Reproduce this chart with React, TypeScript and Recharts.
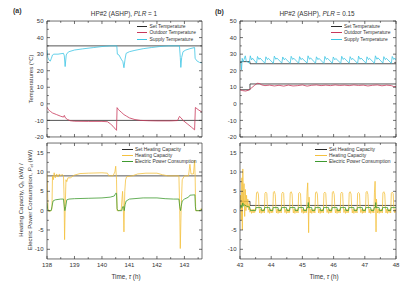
import React from 'react';
import { LineChart, Line, XAxis, YAxis, Legend } from 'recharts';

const FONT = '"Liberation Sans", Arial, sans-serif';
const INK = '#333';

const SET_COLOR = '#2a2a2a';
const OUTDOOR_COLOR = '#c8385a';
const SUPPLY_COLOR = '#3ec5e4';
const HEAT_COLOR = '#f4c13f';
const POWER_COLOR = '#3f9a30';

// axis ticks: labelled ones and the minor ones halfway between them
const aTimeLabels = [138, 139, 140, 141, 142, 143];
const aTimeMinor = [138.5, 139.5, 140.5, 141.5, 142.5, 143.5];
const bTimeLabels = [43, 44, 45, 46, 47, 48];
const bTimeMinor = [43.5, 44.5, 45.5, 46.5, 47.5];
const tempTicks = [-20, -15, -10, -5, 0, 5, 10, 15, 20, 25, 30, 35, 40, 45, 50];
const tempLabels = [-20, -10, 0, 10, 20, 30, 40, 50];
const powerTicks = [-10, -7.5, -5, -2.5, 0, 2.5, 5, 7.5, 10, 12.5, 15];
const powerLabels = [-10, -5, 0, 5, 10, 15];

// ---- (a) PLR = 1, hours 138-143.6 ----
const aSetSupply = [[138, 35], [143.64, 35]];
const aSetOutdoor = [[138, -10], [143.64, -10]];
const aOutdoor = [
  [138.0, -2], [138.05, -3.5], [138.12, -4.5], [138.2, -5.5], [138.35, -6.5], [138.5, -7.5],
  [138.6, -8], [138.63, -7], [138.67, -8.5], [138.75, -9.5], [138.85, -10.2], [139.0, -10.5],
  [139.5, -10.6], [140.0, -10.6], [140.2, -10.8], [140.3, -12], [140.4, -13.5], [140.5, -15.5],
  [140.53, -16], [140.55, -2.3], [140.6, -3.5], [140.7, -5], [140.8, -6.5], [140.9, -7.5],
  [141.0, -8.5], [141.2, -9.5], [141.4, -10], [141.7, -10.2], [142.0, -10.3], [142.5, -10.3],
  [142.75, -10.1], [142.82, -7.6], [142.88, -8.5], [142.95, -10], [143.1, -12], [143.25, -14],
  [143.37, -15.7], [143.4, -2.2], [143.5, -3.5], [143.64, -5],
];
const aSupply = [
  [138.0, 32.5], [138.03, 28], [138.07, 26.5], [138.12, 25.8], [138.16, 27.5], [138.2, 29.5],
  [138.25, 30], [138.4, 30], [138.6, 30.5], [138.63, 29], [138.66, 22.5], [138.7, 29.5],
  [138.73, 30.5], [138.8, 31.5], [139.0, 32.5], [139.3, 33.2], [139.7, 34], [140.0, 34.6],
  [140.3, 35], [140.54, 35], [140.56, 30], [140.62, 29.5], [140.7, 27], [140.76, 25.5],
  [140.8, 21.8], [140.84, 27], [140.88, 30.5], [141.0, 31.5], [141.2, 32.3], [141.5, 33.3],
  [141.8, 34], [142.1, 34.6], [142.4, 35], [142.82, 35], [142.85, 28], [142.87, 22],
  [142.9, 28], [142.95, 31.5], [143.05, 32.5], [143.2, 33.3], [143.37, 34], [143.39, 27.5],
  [143.45, 26], [143.55, 25], [143.64, 24.8],
];
const aSetHeat = [[138, 9], [143.64, 9]];
const aHeat = [
  [138.0, 9.8], [138.02, 5], [138.04, 0], [138.08, -0.2], [138.15, 0], [138.18, 0.5],
  [138.2, 9], [138.23, 8], [138.26, 9.8], [138.3, 8.5], [138.35, 9.5], [138.4, 8.7],
  [138.45, 9.5], [138.5, 9], [138.55, 9.4], [138.6, 9], [138.62, 4], [138.64, -7.5],
  [138.66, 0], [138.69, 8], [138.72, 7.5], [138.76, 8.5], [138.85, 8.5], [139.0, 9.2],
  [139.2, 9.6], [139.5, 9.7], [140.0, 9.8], [140.2, 9.7], [140.25, 9.0], [140.4, 9],
  [140.47, 10], [140.5, 11.5], [140.53, 8], [140.55, 0], [140.6, 0], [140.7, 0.2],
  [140.75, 5], [140.78, 0], [140.8, -5.5], [140.83, 5], [140.86, 8], [140.9, 8.8],
  [141.1, 9], [141.3, 9.5], [141.6, 9.7], [142.0, 9.7], [142.2, 9.3], [142.4, 9.0],
  [142.8, 9], [142.83, 0], [142.85, -9.8], [142.88, 0], [142.92, 8], [143.0, 9],
  [143.15, 9], [143.2, 12], [143.24, 9.5], [143.33, 9.5], [143.37, 13], [143.39, 9],
  [143.41, 0], [143.55, 0], [143.6, 0.5], [143.64, 0.3],
];
const aPower = [
  [138.0, 2], [138.02, 0.5], [138.05, 0], [138.15, 0], [138.18, 1], [138.22, 2.5],
  [138.3, 2.8], [138.5, 3], [138.6, 3], [138.63, 1], [138.65, 0], [138.68, 1],
  [138.72, 2.8], [138.8, 3], [139.0, 3.1], [139.5, 3.2], [140.0, 3.3], [140.3, 3.5],
  [140.45, 3.8], [140.5, 4.5], [140.53, 4.5], [140.55, 0.5], [140.58, 0], [140.72, 0],
  [140.75, 1], [140.79, 1], [140.81, 0], [140.84, 1.5], [140.88, 2.5], [141.0, 3],
  [141.5, 3.3], [142.0, 3.3], [142.3, 3.1], [142.6, 3], [142.8, 3], [142.83, 1],
  [142.86, 0], [142.88, 1], [142.92, 2.5], [143.0, 3], [143.15, 3.5], [143.2, 4],
  [143.38, 4.1], [143.4, 1], [143.42, 0], [143.6, 0], [143.64, 0.5],
];

// ---- (b) PLR = 0.15, hours 43-48 ----
const bSetSupply = [[43, 25.5], [43.32, 25.5], [43.32, 24.2], [48, 24.2]];
const bSetOutdoor = [[43, 8.5], [43.32, 8.5], [43.32, 12], [48, 12]];
const bOutdoor = [
  [43.0, 8.5], [43.08, 8.0], [43.18, 7.7], [43.28, 8.3], [43.38, 9.8], [43.47, 11.2],
  [43.55, 12.4], [43.62, 12.3], [43.7, 11.4], [43.8, 11.0], [43.95, 11.3], [44.1, 10.8],
  [44.25, 11.2], [44.4, 10.7], [44.55, 11.3], [44.7, 10.8], [44.85, 11.0], [45.0, 11.4],
  [45.15, 10.7], [45.3, 11.2], [45.45, 11.4], [45.6, 11.0], [45.75, 11.3], [45.9, 11.0],
  [46.05, 11.4], [46.2, 11.1], [46.35, 11.3], [46.5, 11.0], [46.65, 11.4], [46.8, 11.1],
  [46.95, 11.3], [47.1, 10.8], [47.25, 11.2], [47.4, 11.4], [47.55, 10.9], [47.7, 11.3],
  [47.85, 11.0], [47.93, 10.4], [48.0, 10.5],
];
const bSupply = [
  [43.0, 26.0], [43.03, 25.2], [43.05, 20.5], [43.07, 27.5], [43.1, 25.5], [43.13, 26.8],
  [43.17, 29.0], [43.2, 26.0], [43.25, 25.0], [43.3, 24.8],
  [43.33, 29.0], [43.37, 26.5], [43.4, 27.6], [43.53, 24.6],
  [43.56, 28.6], [43.61, 26.8], [43.64, 27.7], [43.8, 24.5],
  [43.83, 28.4], [43.88, 26.7], [43.91, 27.5], [44.07, 24.5],
  [44.1, 28.8], [44.15, 26.9], [44.18, 27.7], [44.34, 24.6],
  [44.37, 28.3], [44.42, 26.6], [44.45, 27.4], [44.61, 24.4],
  [44.64, 28.7], [44.69, 26.8], [44.72, 27.6], [44.88, 24.5],
  [44.91, 28.5], [44.96, 26.7], [44.99, 27.5], [45.15, 24.6],
  [45.18, 29.0], [45.23, 26.9], [45.26, 27.8], [45.42, 24.5],
  [45.45, 28.4], [45.5, 26.7], [45.53, 27.5], [45.69, 24.4],
  [45.72, 28.6], [45.77, 26.8], [45.8, 27.6], [45.96, 24.5],
  [45.99, 28.3], [46.04, 26.6], [46.07, 27.4], [46.23, 24.5],
  [46.26, 28.7], [46.31, 26.8], [46.34, 27.6], [46.5, 24.6],
  [46.53, 28.5], [46.58, 26.7], [46.61, 27.5], [46.77, 24.4],
  [46.8, 28.8], [46.85, 26.9], [46.88, 27.7], [47.04, 24.5],
  [47.07, 28.4], [47.12, 26.7], [47.15, 27.5], [47.31, 24.5],
  [47.34, 29.0], [47.39, 26.9], [47.42, 27.8], [47.58, 24.6],
  [47.61, 28.5], [47.66, 26.7], [47.69, 27.5], [47.85, 24.5],
  [47.88, 28.6], [47.93, 26.8], [47.96, 27.6], [48.0, 26.5],
];
const bSetHeat = [[43, 2.4], [43.32, 2.4], [43.32, 1.35], [48, 1.35]];
const bHeat = [
  [43.0, 1.5], [43.02, 4.0], [43.04, -2.5], [43.06, 8.5], [43.075, -5.0], [43.09, 10.8],
  [43.11, 1.5], [43.13, 7.0], [43.15, -1.5], [43.17, 5.5], [43.19, 0.0], [43.21, 4.0],
  [43.23, 0.8], [43.25, 3.0], [43.28, 0.2], [43.3, 1.8], [43.32, -0.4], [43.345, 0.4],
  [43.37, -0.7], [43.395, 0.3], [43.42, -0.6], [43.445, 0.4], [43.47, -0.5], [43.5, 0.2],
  [43.53, 4.6], [43.56, 4.9], [43.59, 4.3], [43.61, 0.8], [43.63, -0.6], [43.655, 0.4], [43.68, -0.7], [43.705, 0.3], [43.73, -0.5], [43.755, 0.4], [43.78, -0.6],
  [43.8, 4.5], [43.83, 4.8], [43.86, 4.4], [43.88, 0.9], [43.9, -0.5], [43.925, 0.3], [43.95, -0.7], [43.975, 0.4], [44.0, -0.6], [44.025, 0.3], [44.05, -0.5],
  [44.07, 4.7], [44.1, 5.0], [44.13, 4.2], [44.15, 0.7], [44.17, -0.6], [44.195, 0.4], [44.22, -0.7], [44.245, 0.3], [44.27, -0.5], [44.295, 0.4], [44.32, -0.6],
  [44.34, 4.4], [44.37, 4.8], [44.4, 4.5], [44.42, 0.8], [44.44, -0.5], [44.465, 0.3], [44.49, -0.7], [44.515, 0.4], [44.54, -0.6], [44.565, 0.3], [44.59, -0.5],
  [44.61, 4.6], [44.64, 4.9], [44.67, 4.3], [44.69, 0.9], [44.71, -0.6], [44.735, 0.4], [44.76, -0.7], [44.785, 0.3], [44.81, -0.5], [44.835, 0.4], [44.86, -0.6],
  [44.88, 4.5], [44.91, 4.7], [44.94, 4.4], [44.96, 0.8], [44.98, -0.5], [45.005, 0.3], [45.03, -0.7], [45.055, 0.4], [45.08, -0.6], [45.105, 0.3], [45.13, -0.5],
  [45.15, 4.8], [45.17, 7.2], [45.185, 2.0], [45.2, -5.7], [45.215, 3.5], [45.23, 0.6], [45.25, -0.6], [45.275, 0.4], [45.3, -0.7], [45.325, 0.3], [45.35, -0.5], [45.375, 0.4], [45.4, -0.6],
  [45.42, 4.6], [45.45, 4.9], [45.48, 4.3], [45.5, 0.8], [45.52, -0.6], [45.545, 0.4], [45.57, -0.7], [45.595, 0.3], [45.62, -0.5], [45.645, 0.4], [45.67, -0.6],
  [45.69, 4.5], [45.72, 4.8], [45.75, 4.4], [45.77, 0.9], [45.79, -0.5], [45.815, 0.3], [45.84, -0.7], [45.865, 0.4], [45.89, -0.6], [45.915, 0.3], [45.94, -0.5],
  [45.96, 4.7], [45.99, 5.0], [46.02, 4.2], [46.04, 0.7], [46.06, -0.6], [46.085, 0.4], [46.11, -0.7], [46.135, 0.3], [46.16, -0.5], [46.185, 0.4], [46.21, -0.6],
  [46.23, 4.4], [46.26, 4.8], [46.29, 4.5], [46.31, 0.8], [46.33, -0.5], [46.355, 0.3], [46.38, -0.7], [46.405, 0.4], [46.43, -0.6], [46.455, 0.3], [46.48, -0.5],
  [46.5, 4.6], [46.53, 4.9], [46.56, 4.3], [46.58, 0.9], [46.6, -0.6], [46.625, 0.4], [46.65, -0.7], [46.675, 0.3], [46.7, -0.5], [46.725, 0.4], [46.75, -0.6],
  [46.77, 4.5], [46.8, 4.7], [46.83, 4.4], [46.85, 0.8], [46.87, -0.5], [46.895, 0.3], [46.92, -0.7], [46.945, 0.4], [46.97, -0.6], [46.995, 0.3], [47.02, -0.5],
  [47.04, 4.7], [47.07, 5.0], [47.1, 4.2], [47.12, 0.7], [47.14, -0.6], [47.165, 0.4], [47.19, -0.7], [47.215, 0.3], [47.24, -0.5], [47.265, 0.4], [47.29, -0.6],
  [47.31, 4.8], [47.33, 7.6], [47.345, 2.0], [47.36, -5.5], [47.375, 3.0], [47.39, 0.6], [47.41, -0.6], [47.435, 0.4], [47.46, -0.7], [47.485, 0.3], [47.51, -0.5], [47.535, 0.4], [47.56, -0.6],
  [47.58, 4.6], [47.61, 4.9], [47.64, 4.3], [47.66, 0.8], [47.68, -0.6], [47.705, 0.4], [47.73, -0.7], [47.755, 0.3], [47.78, -0.5], [47.805, 0.4], [47.83, -0.6],
  [47.85, 4.5], [47.88, 4.8], [47.91, 4.4], [47.93, 0.9], [47.95, -0.5], [47.975, 0.3], [48.0, -0.6],
];
const bPower = [
  [43.0, 0.5], [43.03, 1.5], [43.06, 0.8], [43.09, 2.0], [43.11, 1.2], [43.15, 1.5],
  [43.2, 1.2], [43.28, 1.0], [43.31, 0.9], [43.33, 0.05], [43.5, 0.05],
  [43.51, 0.8], [43.68, 0.8], [43.69, 0.05], [43.78, 0.05],
  [43.79, 0.8], [43.95, 0.8], [43.96, 0.05], [44.05, 0.05],
  [44.06, 0.8], [44.22, 0.8], [44.23, 0.05], [44.32, 0.05],
  [44.33, 0.8], [44.49, 0.8], [44.5, 0.05], [44.59, 0.05],
  [44.6, 0.8], [44.76, 0.8], [44.77, 0.05], [44.86, 0.05],
  [44.87, 0.8], [45.03, 0.8], [45.04, 0.05], [45.13, 0.05],
  [45.14, 0.8], [45.18, 0.8], [45.19, 2.1], [45.2, 0.8], [45.3, 0.8], [45.31, 0.05], [45.4, 0.05],
  [45.41, 0.8], [45.57, 0.8], [45.58, 0.05], [45.67, 0.05],
  [45.68, 0.8], [45.84, 0.8], [45.85, 0.05], [45.94, 0.05],
  [45.95, 0.8], [46.11, 0.8], [46.12, 0.05], [46.21, 0.05],
  [46.22, 0.8], [46.38, 0.8], [46.39, 0.05], [46.48, 0.05],
  [46.49, 0.8], [46.65, 0.8], [46.66, 0.05], [46.75, 0.05],
  [46.76, 0.8], [46.92, 0.8], [46.93, 0.05], [47.02, 0.05],
  [47.03, 0.8], [47.19, 0.8], [47.2, 0.05], [47.29, 0.05],
  [47.3, 0.8], [47.34, 0.8], [47.35, 2.1], [47.36, 0.8], [47.46, 0.8], [47.47, 0.05], [47.56, 0.05],
  [47.57, 0.8], [47.73, 0.8], [47.74, 0.05], [47.83, 0.05],
  [47.84, 0.8], [48.0, 0.8],
];

const pts = (rows: number[][]) => rows.map(([t, v]) => ({ t, v }));

// split a tick list into two interleaved halves so that no axis carries crowded ticks
const half = (arr: number[], k: number) => arr.filter((_, i) => i % 2 === k);

type Side = 'bottom' | 'top' | 'left' | 'right';

// the tick component draws its own text, so the axis measures nothing
const noText = () => '';

// inward tick marks drawn on the frame, labels only where asked
const frameTick = (side: Side, labelled: boolean, majors: number[]) => (props: any) => {
  const { x, y, payload } = props;
  const v = Number(payload.value);
  const major = majors.some((m) => Math.abs(m - v) < 1e-6);
  const len = major ? 3 : 1.8;
  const txt = String(v);
  let mark;
  let label = null;
  if (side === 'bottom') {
    mark = <line x1={x} x2={x} y1={y} y2={y - len} />;
    if (labelled && major) label = <text x={x} y={y + 8} textAnchor="middle" fill={INK}>{txt}</text>;
  } else if (side === 'top') {
    mark = <line x1={x} x2={x} y1={y} y2={y + len} />;
  } else if (side === 'left') {
    mark = <line x1={x} x2={x + len} y1={y} y2={y} />;
    if (labelled && major) label = <text x={x - 3.5} y={y + 2.1} textAnchor="end" fill={INK}>{txt}</text>;
  } else {
    mark = <line x1={x} x2={x - len} y1={y} y2={y} />;
  }
  return (
    <g>
      <g stroke={INK} strokeWidth={0.7}>{mark}</g>
      {label && <g stroke="none" fontSize={6} fontFamily={FONT}>{label}</g>}
    </g>
  );
};

// legend rows keep the order of the series list; hidden duplicates are dropped
const legendBox = (order: string[], rowH: number, lineW: number) => (props: any) => {
  const items = (props.payload || [])
    .filter((p: any) => p.type !== 'none')
    .filter((p: any, i: number, all: any[]) => all.findIndex((q: any) => q.value === p.value) === i)
    .sort((a: any, b: any) => order.indexOf(a.value) - order.indexOf(b.value));
  return (
    <div style={{ fontFamily: FONT, fontSize: 4.9, color: INK }}>
      {items.map((p: any) => (
        <div key={p.value} style={{ display: 'flex', alignItems: 'center', height: rowH, whiteSpace: 'nowrap' }}>
          <span style={{ display: 'inline-block', width: lineW, borderTop: `0.8px solid ${p.color}`, marginRight: 2.5 }} />
          {p.value}
        </div>
      ))}
    </div>
  );
};

type Series = { name: string; color: string; rows: number[][]; hidden?: boolean };

type PanelProps = {
  left: number; top: number; width: number; height: number;
  margin: { top: number; right: number; bottom: number; left: number };
  xDomain: [number, number]; xMajors: number[]; xMinors: number[]; xLabels: boolean;
  yDomain: [number, number]; yTicks: number[]; yMajors: number[];
  series: Series[];
  legend: { left: number; top: number; rowH: number; lineW: number };
};

const STRIP = 0.01; // x-axis strips are kept near zero so they stack on the frame line

function Panel(p: PanelProps) {
  const order = p.series.map((s) => s.name);
  const axisCommon = {
    type: 'number' as const, allowDataOverflow: true, interval: 0, minTickGap: 0,
    tickSize: 0, tickMargin: 0, stroke: INK, strokeWidth: 0.7, fontSize: 6, tickFormatter: noText,
  };
  // each bottom/top axis holds every other major or minor tick
  const xGroups = [half(p.xMajors, 0), half(p.xMajors, 1), half(p.xMinors, 0), half(p.xMinors, 1)];
  return (
    <div style={{ position: 'absolute', left: p.left, top: p.top }}>
      <LineChart width={p.width} height={p.height} margin={p.margin}>
        {xGroups.map((g, i) => (
          <XAxis key={`b${i}`} xAxisId={`b${i}`} dataKey="t" domain={p.xDomain} ticks={g} height={STRIP}
            {...axisCommon} axisLine={i === 0} tick={frameTick('bottom', p.xLabels, p.xMajors)} />
        ))}
        {xGroups.map((g, i) => (
          <XAxis key={`t${i}`} xAxisId={`t${i}`} orientation="top" dataKey="t" domain={p.xDomain} ticks={g}
            height={STRIP} {...axisCommon} axisLine={i === 0} tick={frameTick('top', false, p.xMajors)} />
        ))}
        <YAxis yAxisId="l" domain={p.yDomain} ticks={p.yTicks} width={1} {...axisCommon}
          tick={frameTick('left', true, p.yMajors)} />
        <YAxis yAxisId="r" orientation="right" domain={p.yDomain} ticks={p.yTicks} width={1} {...axisCommon}
          tick={frameTick('right', false, p.yMajors)} />
        {p.series.map((s, i) => (
          <Line key={i} xAxisId="b0" yAxisId="l" data={pts(s.rows)} dataKey="v" name={s.name}
            type="linear" dot={false} stroke={s.color} strokeWidth={0.8}
            legendType={s.hidden ? 'none' : 'line'} isAnimationActive={false} />
        ))}
        <Legend layout="horizontal" verticalAlign="middle" align="center"
          wrapperStyle={{ left: p.legend.left, top: p.legend.top, width: 'auto', height: 'auto' }}
          content={legendBox(order, p.legend.rowH, p.legend.lineW)} />
      </LineChart>
    </div>
  );
}

// side margins leave 1px for the y-axis strips so the frame lands on the plot edges
const TOP_MARGIN_A = { top: 21, right: 7, bottom: 3, left: 46 };
const BOT_MARGIN_A = { top: 3, right: 7, bottom: 25, left: 46 };
const TOP_MARGIN_B = { top: 21, right: 5, bottom: 3, left: 29 };
const BOT_MARGIN_B = { top: 3, right: 5, bottom: 25, left: 29 };

export default function App() {
  return (
    <div style={{ position: 'absolute', left: 0, top: 0, width: 402, height: 284, background: '#fff', fontFamily: FONT }}>
      <Panel left={0} top={0} width={210} height={140} margin={TOP_MARGIN_A}
        xDomain={[138, 143.64]} xMajors={aTimeLabels} xMinors={aTimeMinor} xLabels={false}
        yDomain={[-20, 50]} yTicks={tempTicks} yMajors={tempLabels}
        legend={{ left: 137, top: 22.8, rowH: 6.5, lineW: 10 }}
        series={[
          { name: 'Set Temperature', color: SET_COLOR, rows: aSetSupply },
          { name: 'Set Temperature', color: SET_COLOR, rows: aSetOutdoor, hidden: true },
          { name: 'Outdoor Temperature', color: OUTDOOR_COLOR, rows: aOutdoor },
          { name: 'Supply Temperature', color: SUPPLY_COLOR, rows: aSupply },
        ]} />
      <Panel left={0} top={140} width={210} height={144} margin={BOT_MARGIN_A}
        xDomain={[138, 143.64]} xMajors={aTimeLabels} xMinors={aTimeMinor} xLabels
        yDomain={[-12.5, 17.5]} yTicks={powerTicks} yMajors={powerLabels}
        legend={{ left: 121.5, top: 7, rowH: 5.9, lineW: 11 }}
        series={[
          { name: 'Set Heating Capacity', color: SET_COLOR, rows: aSetHeat },
          { name: 'Heating Capacity', color: HEAT_COLOR, rows: aHeat },
          { name: 'Electric Power Consumption', color: POWER_COLOR, rows: aPower },
        ]} />
      <Panel left={210} top={0} width={192} height={140} margin={TOP_MARGIN_B}
        xDomain={[43, 48]} xMajors={bTimeLabels} xMinors={bTimeMinor} xLabels={false}
        yDomain={[-20, 50]} yTicks={tempTicks} yMajors={tempLabels}
        legend={{ left: 121, top: 22.8, rowH: 6.5, lineW: 10.5 }}
        series={[
          { name: 'Set Temperature', color: SET_COLOR, rows: bSetSupply },
          { name: 'Set Temperature', color: SET_COLOR, rows: bSetOutdoor, hidden: true },
          { name: 'Outdoor Temperature', color: OUTDOOR_COLOR, rows: bOutdoor },
          { name: 'Supply Temperature', color: SUPPLY_COLOR, rows: bSupply },
        ]} />
      <Panel left={210} top={140} width={192} height={144} margin={BOT_MARGIN_B}
        xDomain={[43, 48]} xMajors={bTimeLabels} xMinors={bTimeMinor} xLabels
        yDomain={[-12.5, 17.5]} yTicks={powerTicks} yMajors={powerLabels}
        legend={{ left: 105, top: 7, rowH: 5.9, lineW: 11.5 }}
        series={[
          { name: 'Set Heating Capacity', color: SET_COLOR, rows: bSetHeat },
          { name: 'Heating Capacity', color: HEAT_COLOR, rows: bHeat },
          { name: 'Electric Power Consumption', color: POWER_COLOR, rows: bPower },
        ]} />

      {/* titles and axis captions */}
      <svg width={402} height={284} style={{ position: 'absolute', left: 0, top: 0, pointerEvents: 'none' }}
        fontFamily={FONT} fill={INK}>
        <text x={13} y={13} fontSize={7} fontWeight="bold">(a)</text>
        <text x={215} y={13.5} fontSize={7} fontWeight="bold">(b)</text>
        <text x={124} y={15.5} fontSize={6.4} textAnchor="middle">
          HP#2 (ASHP), <tspan fontStyle="italic">PLR</tspan> = 1
        </text>
        <text x={317} y={15.5} fontSize={6.4} textAnchor="middle">
          HP#2 (ASHP), <tspan fontStyle="italic">PLR</tspan> = 0.15
        </text>
        <text transform="translate(32.5,79) rotate(-90)" fontSize={6} textAnchor="middle">
          Temperatures (°C)
        </text>
        <text transform="translate(23,200) rotate(-90)" fontSize={6} textAnchor="middle">
          Heating Capacity, <tspan fontStyle="italic">Q̇</tspan><tspan fontSize={4.2} dy={1.2}>h</tspan><tspan dy={-1.2}> (kW) /</tspan>
        </text>
        <text transform="translate(31.5,200) rotate(-90)" fontSize={6} textAnchor="middle">
          Electric Power Consumption, <tspan fontStyle="italic">P</tspan><tspan fontSize={4.2} dy={1.2}>el</tspan><tspan dy={-1.2}> (kW)</tspan>
        </text>
        <text x={126} y={279} fontSize={6.3} textAnchor="middle">
          Time, <tspan fontStyle="italic">τ</tspan> (h)
        </text>
        <text x={324} y={279} fontSize={6.3} textAnchor="middle">
          Time, <tspan fontStyle="italic">τ</tspan> (h)
        </text>
      </svg>
    </div>
  );
}
